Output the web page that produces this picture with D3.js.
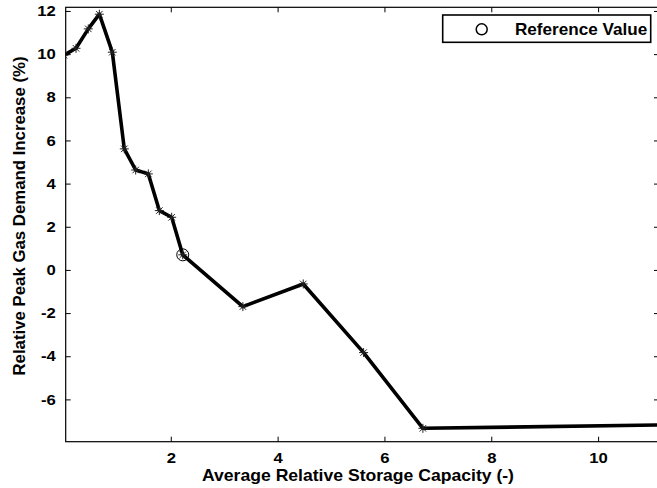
<!DOCTYPE html>
<html>
<head>
<meta charset="utf-8">
<script src="https://cdn.jsdelivr.net/npm/d3@7"></script>
<style>
  html, body { margin: 0; padding: 0; background: #fff; }
  svg { display: block; }
  text { font-family: "Liberation Sans", Arial, sans-serif; font-weight: bold; fill: #000; }
</style>
</head>
<body>
<svg id="chart" width="657" height="488"></svg>
<script>
// Average relative storage capacity (-) and the resulting peak gas demand change (%)
const capacity = [0, 0.226, 0.456, 0.663, 0.906, 1.13, 1.343, 1.58, 1.786, 2.017, 2.224, 3.35, 4.48, 5.61, 6.72, 11.3];
const demand   = [9.95, 10.27, 11.17, 11.85, 10.09, 5.61, 4.63, 4.45, 2.75, 2.44, 0.70, -1.70, -0.65, -3.83, -7.34, -7.18];

// Reference case
const refCapacity = [2.224];
const refDemand   = [0.70];

const xTicks = [2, 4, 6, 8, 10];
const yTicks = [-6, -4, -2, 0, 2, 4, 6, 8, 10, 12];

const xLabel = "Average Relative Storage Capacity (-)";
const yLabel = "Relative Peak Gas Demand Increase (%)";
const legendLabel = "Reference Value";

const svg = d3.select("#chart");
const plot = { left: 65.7, right: 659, top: 7.3, bottom: 441.7 };

const x = d3.scaleLinear().domain([0.033, 11.14]).range([plot.left, plot.right]);
const y = d3.scaleLinear().domain([-7.96, 12.17]).range([plot.bottom, plot.top]);

// plain hyphen-minus tick labels
const fmt = d => String(d);

// slightly widened glyphs for tick labels
function widen(sel, sx) {
  sel.each(function () {
    const t = d3.select(this);
    const ox = +t.attr("x") || 0;
    t.attr("x", ox / sx).attr("transform", `scale(${sx},1)`);
  });
}

function styleAxis(g) {
  g.select(".domain").remove();
  g.selectAll(".tick line").attr("stroke", "#000").attr("stroke-width", 1);
  g.selectAll("text").attr("font-size", 14.5).attr("font-family", null).attr("fill", "#000");
}

// bottom axis
const gx = svg.append("g")
  .attr("transform", `translate(0,${plot.bottom})`)
  .call(d3.axisBottom(x).tickValues(xTicks).tickSizeInner(-5).tickSizeOuter(0).tickPadding(11).tickFormat(fmt));
styleAxis(gx);
widen(gx.selectAll("text"), 1.15);

// left axis
const gy = svg.append("g")
  .attr("transform", `translate(${plot.left},0)`)
  .call(d3.axisLeft(y).tickValues(yTicks).tickSizeInner(-5).tickSizeOuter(0).tickPadding(10).tickFormat(fmt));
styleAxis(gy);
widen(gy.selectAll("text"), 1.15);

// top and right mirrored ticks
const gt = svg.append("g")
  .attr("transform", `translate(0,${plot.top})`)
  .call(d3.axisTop(x).tickValues(xTicks).tickSizeInner(-5).tickSizeOuter(0).tickFormat(""));
styleAxis(gt);
const gr = svg.append("g")
  .attr("transform", `translate(${plot.right},0)`)
  .call(d3.axisRight(y).tickValues(yTicks).tickSizeInner(-5).tickSizeOuter(0).tickFormat(""));
styleAxis(gr);

// frame
svg.append("rect")
  .attr("x", plot.left).attr("y", plot.top)
  .attr("width", plot.right - plot.left).attr("height", plot.bottom - plot.top)
  .attr("fill", "none").attr("stroke", "#000").attr("stroke-width", 1.2);

// clip to plot area
svg.append("clipPath").attr("id", "plotClip")
  .append("rect")
  .attr("x", plot.left).attr("y", plot.top)
  .attr("width", plot.right - plot.left).attr("height", plot.bottom - plot.top);

const data = capacity.map((c, i) => ({ c, d: demand[i] }));
const body = svg.append("g").attr("clip-path", "url(#plotClip)");

body.append("path")
  .datum(data)
  .attr("fill", "none")
  .attr("stroke", "#000")
  .attr("stroke-width", 3.6)
  .attr("stroke-linejoin", "round")
  .attr("d", d3.line().x(p => x(p.c)).y(p => y(p.d)));

// asterisk markers
const s = 4.5, sd = s * 0.72;
const star = `M${-s},0L${s},0M0,${-s}L0,${s}M${-sd},${-sd}L${sd},${sd}M${-sd},${sd}L${sd},${-sd}`;
body.selectAll("path.mk")
  .data(data)
  .join("path")
  .attr("class", "mk")
  .attr("transform", p => `translate(${x(p.c)},${y(p.d)})`)
  .attr("d", star)
  .attr("fill", "none")
  .attr("stroke", "#222")
  .attr("stroke-width", 1);

// reference value circle
body.selectAll("circle.ref")
  .data(refCapacity.map((c, i) => ({ c, d: refDemand[i] })))
  .join("circle")
  .attr("class", "ref")
  .attr("cx", p => x(p.c)).attr("cy", p => y(p.d))
  .attr("r", 6)
  .attr("fill", "none")
  .attr("stroke", "#000")
  .attr("stroke-width", 1);

// axis titles
svg.append("text")
  .attr("transform", `translate(358,481) scale(1.1,1)`)
  .attr("text-anchor", "middle")
  .attr("font-size", 16)
  .text(xLabel);

svg.append("text")
  .attr("transform", `translate(25,216) rotate(-90)`)
  .attr("text-anchor", "middle")
  .attr("font-size", 16.8)
  .text(yLabel);

// legend
const lg = svg.append("g");
lg.append("rect")
  .attr("x", 442.7).attr("y", 15)
  .attr("width", 208).attr("height", 27.3)
  .attr("fill", "#fff").attr("stroke", "#000").attr("stroke-width", 1.6);
lg.append("circle")
  .attr("cx", 481.7).attr("cy", 29.3).attr("r", 5.5)
  .attr("fill", "none").attr("stroke", "#000").attr("stroke-width", 1.5);
lg.append("text")
  .attr("transform", `translate(515,35) scale(1.05,1)`)
  .attr("font-size", 16.3)
  .text(legendLabel);
</script>
</body>
</html>
